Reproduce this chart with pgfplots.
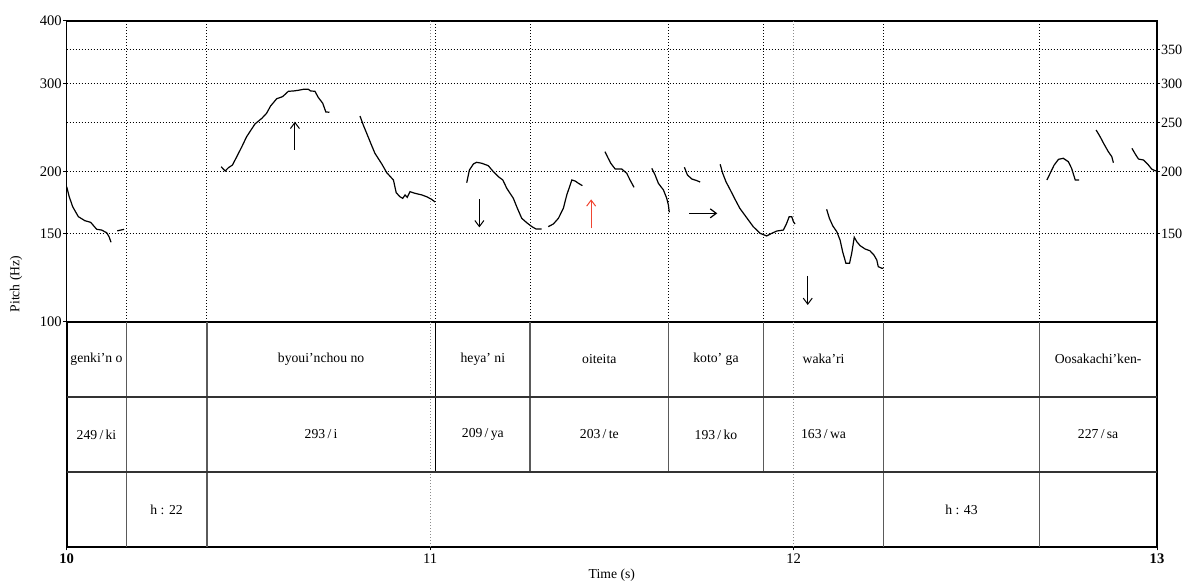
\documentclass[border=0pt]{standalone}
\usepackage{fontspec}
\setmainfont{Liberation Serif}
\usepackage{pgfplots}
\pgfplotsset{compat=1.18}
\usetikzlibrary{arrows.meta}
\definecolor{tgray}{RGB}{90,90,90}
\definecolor{lgray}{RGB}{140,140,140}
\definecolor{arrred}{RGB}{240,70,50}
\tikzset{praatdot/.style={dash pattern=on 0.5pt off 1pt, line width=0.5pt}}
\begin{document}
\begin{tikzpicture}
\path[use as bounding box] (-33.35pt,-130.65pt) rectangle (557.65pt,160.85pt);
% right ticks and horizontal grid
\begin{axis}[at={(0,0)}, anchor=south west, scale only axis,
  width=545.15pt, height=150.35pt,
  xmin=10, xmax=13, ymode=log, ymin=100, ymax=400,
  axis x line=none, axis y line*=right,
  ytick={150,200,250,300,350}, yticklabels={150,200,250,300,350},
  ymajorgrids, grid style={black, praatdot},
  tick align=outside, major tick length=1.5pt,
  tick style={black, line width=0.5pt},
  axis line style={black, line width=0.75pt},
  yticklabel style={font=\fontsize{7.1}{8}\selectfont, inner sep=0.3pt},
]
\addplot[draw=none] coordinates {(10,150)};
\end{axis}
% pitch axis
\begin{axis}[at={(0,0)}, anchor=south west, scale only axis,
  width=545.15pt, height=150.35pt,
  xmin=10, xmax=13, ymode=log, ymin=100, ymax=400,
  xtick=\empty, ytick pos=left,
  ytick={100,150,200,300,400}, yticklabels={100,150,200,300,400},
  tick align=outside, major tick length=1.7pt,
  tick style={black, line width=0.5pt},
  axis line style={black, line width=0.75pt},
  yticklabel style={font=\fontsize{7.3}{8}\selectfont, inner sep=0.6pt},
]
% boundary dotted lines
\foreach \t in {10.164,10.386,11.015,11.275,11.656,11.917,12.248,12.676}{
  \edef\tmp{\noexpand\addplot[black, praatdot, forget plot] coordinates {(\t,100) (\t,400)};}\tmp
}
\addplot[lgray, praatdot] coordinates {(11,100) (11,400)};
\addplot[lgray, praatdot] coordinates {(12,100) (12,400)};
% pitch contour
\pgfplotsset{every axis plot/.append style={line width=0.6pt}}
\addplot[black] coordinates {(10.000,186.3)(10.007,177.9)(10.0165,169.9)(10.032,162.3)(10.050,159.3)(10.066,158.1)(10.0825,153.1)(10.096,152.6)(10.110,150.7)(10.1165,148.0)(10.122,144.2)};
\addplot[black] coordinates {(10.139,152.0)(10.158,153.1)};
\addplot[black] coordinates {(10.425,204.3)(10.436,200.3)(10.445,203.4)(10.456,205.9)(10.468,214.0)(10.482,224.1)(10.495,234.6)(10.518,248.8)(10.537,255.4)(10.550,261.4)(10.561,270.3)(10.578,279.6)(10.594,282.2)(10.610,289.3)(10.624,289.7)(10.637,290.6)(10.651,291.9)(10.665,291.9)(10.671,289.7)(10.683,289.3)(10.692,281.4)(10.7045,273.7)(10.713,263.0)(10.723,262.6)};
\addplot[black] coordinates {(10.807,258.1)(10.816,247.6)(10.8255,238.3)(10.8366,227.6)(10.848,217.4)(10.867,206.9)(10.8806,198.8)(10.899,192.2)(10.9066,181.3)(10.915,178.5)(10.917,177.9)(10.9246,176.6)(10.931,179.4)(10.937,177.4)(10.9445,182.1)(10.958,180.8)(10.977,179.4)(10.9906,177.9)(11.004,175.8)(11.0135,173.7)};
\addplot[black] coordinates {(11.1007,189.8)(11.108,201.2)(11.119,206.9)(11.128,208.5)(11.142,207.6)(11.160,205.3)(11.174,199.7)(11.188,195.1)(11.200,192.2)(11.211,184.9)(11.229,176.6)(11.240,168.7)(11.252,161.1)(11.266,157.8)(11.280,155.0)(11.2915,153.3)(11.307,153.3)};
\addplot[black] coordinates {(11.325,155.0)(11.339,156.9)(11.353,161.1)(11.3666,168.7)(11.376,179.4)(11.390,192.2)(11.399,191.3)(11.408,189.3)(11.419,187.2)};
\addplot[black] coordinates {(11.481,219.0)(11.490,212.4)(11.497,207.6)(11.509,202.2)(11.527,202.2)(11.541,198.2)(11.550,192.2)(11.561,185.8)};
\addplot[black] coordinates {(11.610,202.8)(11.619,196.7)(11.628,189.3)(11.642,183.5)(11.651,176.6)(11.6555,171.3)(11.658,165.6)};
\addplot[black] coordinates {(11.6995,203.8)(11.708,196.7)(11.720,193.1)(11.734,191.6)(11.743,190.4)};
\addplot[black] coordinates {(11.798,206.6)(11.805,198.2)(11.814,190.7)(11.825,184.1)(11.839,175.8)(11.852,168.7)(11.871,161.5)(11.889,155.0)(11.908,150.3)(11.926,148.5)(11.940,150.3)(11.954,151.9)(11.972,152.6)(11.981,157.4)(11.988,162.3)(11.995,162.3)(11.9995,158.6)(12.004,156.9)};
\addplot[black] coordinates {(12.091,167.9)(12.0985,161.1)(12.108,155.5)(12.119,151.4)(12.128,145.7)(12.135,138.1)(12.144,130.9)(12.154,130.9)(12.160,137.1)(12.167,147.6)(12.174,144.6)(12.183,142.0)(12.197,139.8)(12.210,138.7)(12.221,136.0)(12.229,132.9)(12.233,128.9)(12.243,127.9)(12.247,127.9)};
\addplot[black] coordinates {(12.697,192.2)(12.706,198.2)(12.717,205.9)(12.729,211.4)(12.742,212.4)(12.756,209.1)(12.765,202.8)(12.775,192.2)(12.786,192.2)};
\addplot[black] coordinates {(12.8325,242.0)(12.8435,234.6)(12.854,226.9)(12.866,219.0)(12.8756,214.0)(12.880,208.1)};
\addplot[black] coordinates {(12.931,222.4)(12.940,216.7)(12.949,211.7)(12.963,210.7)(12.974,206.9)(12.986,201.9)(12.995,200.6)(13.0,200.6)};
% arrows
\addplot[black, line width=0.5pt, -{Straight Barb[length=3pt,width=4.5pt]}] coordinates {(10.628,220.7)(10.628,251.4)};
\addplot[black, line width=0.5pt, -{Straight Barb[length=3pt,width=4.5pt]}] coordinates {(11.1355,176.0)(11.1355,154.5)};
\addplot[arrred, line width=0.5pt, -{Straight Barb[length=3pt,width=4.5pt]}] coordinates {(11.443,153.8)(11.443,175.8)};
\addplot[black, line width=0.6pt, -{Straight Barb[length=3pt,width=4.5pt]}] coordinates {(11.7125,164.8)(11.790,164.8)};
\addplot[black, line width=0.5pt, -{Straight Barb[length=3pt,width=4.5pt]}] coordinates {(12.039,123.5)(12.039,108.0)};
\end{axis}
% text grid
\begin{axis}[at={(0,0)}, anchor=north west, scale only axis,
  width=545.15pt, height=112.65pt,
  xmin=10, xmax=13, ymin=0, ymax=3,
  ytick=\empty, xtick={10,11,12,13}, xticklabels={\textbf{10},11,12,\textbf{13}},
  xtick pos=bottom,
  tick align=outside, major tick length=1.7pt,
  tick style={black, line width=0.5pt},
  axis line style={black, line width=0.9pt},
  xticklabel style={font=\fontsize{7.3}{8}\selectfont, inner sep=0.8pt, yshift=-0.5pt},
  xlabel={Time (s)},
  xlabel style={font=\fontsize{6.85}{8}\selectfont, at={(axis description cs:0.5,0)}, anchor=center, yshift=-14pt},
  clip=false,
]
\addplot[lgray, praatdot] coordinates {(11,0) (11,3)};
\addplot[lgray, praatdot] coordinates {(12,0) (12,3)};
\foreach \t in {10.164,10.386,12.248,12.676}{
  \edef\tmp{\noexpand\addplot[tgray, line width=0.75pt, forget plot] coordinates {(\t,0) (\t,3)};}\tmp
}
\foreach \t in {11.275,11.656,11.917}{
  \edef\tmp{\noexpand\addplot[tgray, line width=0.75pt, forget plot] coordinates {(\t,1) (\t,3)};}\tmp
}
\addplot[black, line width=0.5pt] coordinates {(11.015,1) (11.015,3)};
\addplot[black!80, line width=1pt] coordinates {(10,2) (13,2)};
\addplot[black!80, line width=0.9pt] coordinates {(10,1) (13,1)};
\begin{scope}[every node/.style={font=\fontsize{6.85}{8}\selectfont}]
\node at (axis cs:10.082,2.5) {genki'n o};
\node at (axis cs:10.70,2.5) {byoui'nchou no};
\node at (axis cs:11.145,2.5) {heya' ni};
\node at (axis cs:11.4655,2.5) {oiteita};
\node at (axis cs:11.7865,2.5) {koto' ga};
\node at (axis cs:12.0825,2.5) {waka'ri};
\node at (axis cs:12.838,2.5) {Oosakachi'ken-};
\node at (axis cs:10.082,1.5) {249\,/\,ki};
\node at (axis cs:10.70,1.5) {293\,/\,i};
\node at (axis cs:11.145,1.5) {209\,/\,ya};
\node at (axis cs:11.4655,1.5) {203\,/\,te};
\node at (axis cs:11.7865,1.5) {193\,/\,ko};
\node at (axis cs:12.0825,1.5) {163\,/\,wa};
\node at (axis cs:12.838,1.5) {227\,/\,sa};
\node at (axis cs:10.275,0.5) {h : 22};
\node at (axis cs:12.462,0.5) {h : 43};
\end{scope}
\end{axis}
\node[rotate=90, font=\fontsize{6.85}{8}\selectfont] at (-25.35pt,18.85pt) {Pitch (Hz)};
\end{tikzpicture}
\end{document}
